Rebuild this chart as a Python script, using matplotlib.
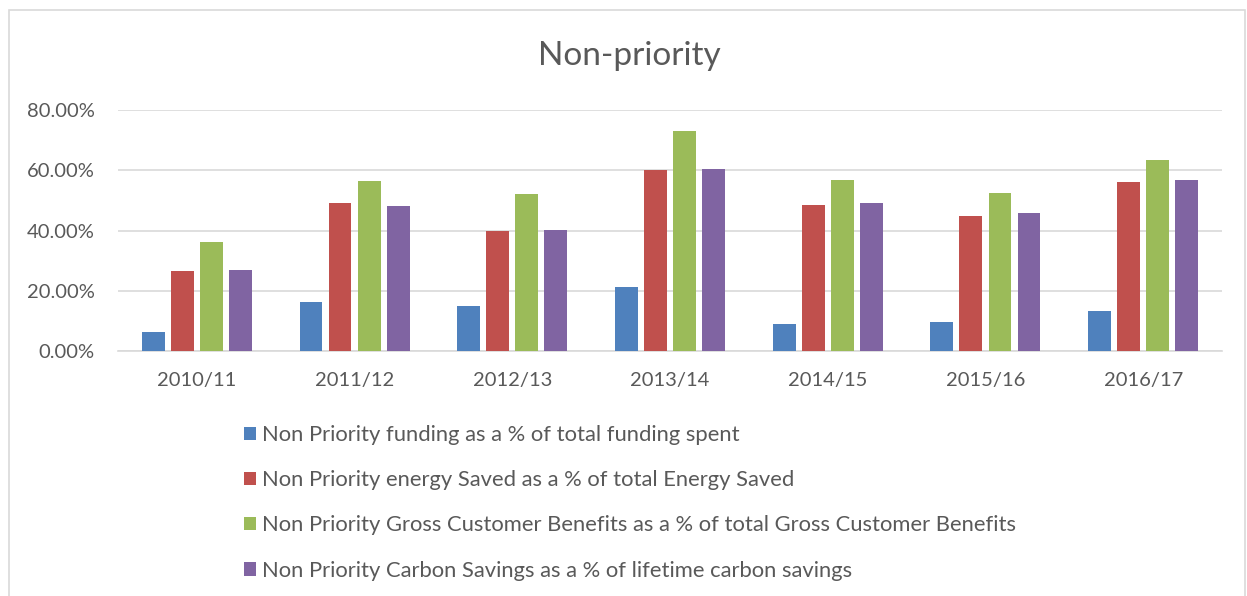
import matplotlib
matplotlib.use('Agg')
import matplotlib.pyplot as plt
from matplotlib.patches import Rectangle
from matplotlib.ticker import FuncFormatter
import numpy as np

years = ['2010/11', '2011/12', '2012/13', '2013/14', '2014/15', '2015/16', '2016/17']
funding = [6.4, 16.3, 15.1, 21.1, 8.8, 9.6, 13.4]
energy = [26.4, 49.1, 40.0, 60.2, 48.3, 44.9, 56.0]
benefits = [36.2, 56.3, 52.1, 72.9, 56.6, 52.5, 63.5]
carbon = [26.9, 48.1, 40.3, 60.3, 49.1, 45.7, 56.9]
labels = ['Non Priority funding as a % of total funding spent',
          'Non Priority energy Saved as a % of total Energy Saved',
          'Non Priority Gross Customer Benefits as a % of total Gross Customer Benefits',
          'Non Priority Carbon Savings as a % of lifetime carbon savings']
colors = ['#4f81bd', '#c0504d', '#9bbb59', '#8064a2']

plt.rcParams['font.family'] = ['Lato', 'DejaVu Sans']
txt = '#595959'

fig = plt.figure(figsize=(12.47, 5.96), dpi=100)
ax = fig.add_axes([118/1247, 1 - 351/596, (1222 - 118)/1247, (351 - 110)/596])

x = np.arange(len(years))
step = 0.184
for i, (vals, c, lab) in enumerate(zip([funding, energy, benefits, carbon], colors, labels)):
    ax.bar(x + (i - 1.5) * step, np.array(vals) / 100, width=0.145, color=c, label=lab, zorder=3)

ax.set_xlim(-0.5, len(years) - 0.5)
ax.set_ylim(0, 0.8)
ax.set_yticks(np.arange(0, 0.81, 0.2))
ax.yaxis.set_major_formatter(FuncFormatter(lambda v, p: '%.2f%%' % (v * 100)))
ax.set_xticks(x)
ax.set_xticklabels(years)
ax.tick_params(length=0, labelsize=14.5, colors=txt, pad=15)
ax.tick_params(axis='y', pad=17)
ax.grid(axis='y', color='#d9d9d9', linewidth=1.2, zorder=0)
for s in ['top', 'right', 'left']:
    ax.spines[s].set_visible(False)
ax.spines['bottom'].set_color('#d9d9d9')
ax.spines['bottom'].set_linewidth(1.2)

fig.text(629/1247, 1 - 56/596, 'Non-priority', ha='center', va='center', fontsize=24, color=txt)

leg = fig.legend(loc='upper left', bbox_to_anchor=(244/1247, 1 - 425/596), frameon=False,
                 fontsize=15.8, handlelength=0.55, handleheight=0.55, handletextpad=0.25,
                 labelspacing=1.15, borderaxespad=0, borderpad=0)
for t in leg.get_texts():
    t.set_color(txt)

fig.patches.append(Rectangle((9/1247, -0.1), (1245 - 9)/1247, 1.1 - 10/596,
                             transform=fig.transFigure, fill=False, edgecolor='#d9d9d9', linewidth=1.2))

fig.savefig('out.png', dpi=100)
